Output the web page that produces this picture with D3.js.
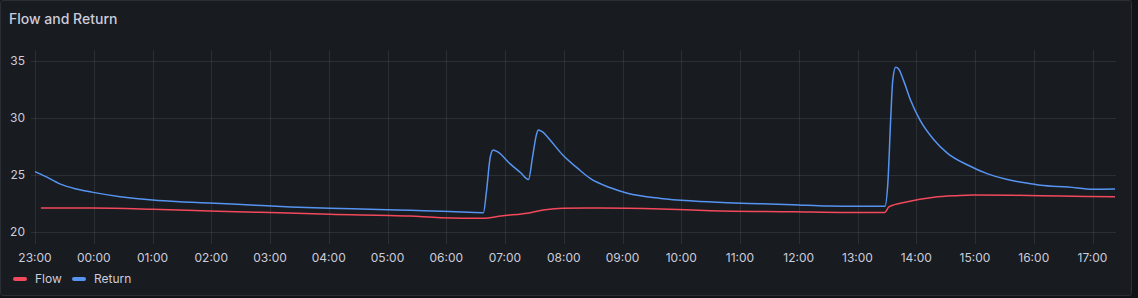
<!DOCTYPE html>
<html>
<head>
<meta charset="utf-8">
<script src="https://cdn.jsdelivr.net/npm/d3@7"></script>
<style>
  html, body { margin: 0; padding: 0; background: #111217; }
  svg { display: block; }
  text { font-family: Inter, "Noto Sans", sans-serif; }
</style>
</head>
<body>
<svg id="chart" width="1138" height="298"></svg>
<script>
const title = "Flow and Return";
const seriesNames = ["Flow", "Return"];
const seriesColors = ["#f2495c", "#5794f2"];
const yTicks = [20, 25, 30, 35];

const returnTimes = ["23:00","23:10","23:26","23:41","23:58","00:27","01:00","01:28","01:58","02:40","03:21","04:01","04:42","05:23","06:04","06:38","06:41","06:45","06:48","06:53","07:05","07:16","07:24","07:28","07:32","07:34","07:38","07:46","07:59","08:14","08:27","08:47","09:05","09:39","10:12","10:47","11:21","11:54","12:29","13:03","13:28","13:31","13:34","13:36","13:39","13:42","13:47","13:54","14:04","14:18","14:32","14:52","15:13","15:33","15:54","16:07","16:35","17:01","17:23"];
const returnValues = [25.3,24.9,24.2,23.8,23.5,23.1,22.8,22.65,22.55,22.37,22.2,22.08,22.0,21.9,21.8,21.7,23.5,26.6,27.2,27.0,26.0,25.2,24.6,26.5,28.5,28.95,28.8,28.07,26.75,25.6,24.7,23.9,23.4,22.95,22.72,22.57,22.48,22.4,22.28,22.25,22.25,24.3,30.1,33.3,34.45,34.3,33.3,31.6,29.8,28.1,26.9,25.9,25.1,24.6,24.27,24.1,23.95,23.75,23.77];

const flowTimes = ["23:06","23:58","01:00","01:58","02:50","04:01","05:23","05:54","06:38","06:56","07:26","07:41","07:59","08:37","09:39","10:30","11:54","12:50","13:28","13:32","13:51","14:18","14:41","14:58","15:39","16:27","17:23"];
const flowValues = [22.1,22.1,22.0,21.85,21.73,21.55,21.4,21.26,21.2,21.4,21.7,21.95,22.08,22.1,22.02,21.87,21.78,21.72,21.72,22.2,22.66,23.05,23.19,23.25,23.22,23.15,23.1];

const rangeStart = "23:00";
const rangeEnd = "17:24";

function parseT(s) {
  const [h, m] = s.split(":").map(Number);
  const day = h >= 23 ? 1 : 2;
  return new Date(2024, 0, day, h, m);
}

const flowData = flowTimes.map((t, i) => ({ t: parseT(t), v: flowValues[i] }));
const returnData = returnTimes.map((t, i) => ({ t: parseT(t), v: returnValues[i] }));

const svg = d3.select("#chart");
const panel = { x: 0.5, y: 0.5, w: 1131, h: 295 };
const plot = { left: 35, right: 1116, top: 49.6, bottom: 240 };

svg.append("rect").attr("x", panel.x).attr("y", panel.y).attr("width", panel.w).attr("height", panel.h)
  .attr("rx", 2).attr("fill", "#181b1f").attr("stroke", "#2b2e35").attr("stroke-width", 1);

svg.append("text").attr("x", 9).attr("y", 24).attr("fill", "#ccccdc")
  .attr("font-size", 14).attr("font-weight", 500).text(title);

const x = d3.scaleTime().domain([parseT(rangeStart), parseT(rangeEnd)]).range([plot.left, plot.right]);
const y = d3.scaleLinear().domain([19.3, 36]).range([plot.bottom, plot.top]);

const gridColor = "rgba(240,250,255,0.09)";
const xTicks = x.ticks(d3.timeHour.every(1));

svg.append("g").selectAll("line").data(xTicks).join("line")
  .attr("x1", d => Math.round(x(d)) + 0.5).attr("x2", d => Math.round(x(d)) + 0.5)
  .attr("y1", 50).attr("y2", 244)
  .attr("stroke", gridColor).attr("stroke-width", 1);

svg.append("g").selectAll("line").data(yTicks).join("line")
  .attr("x1", 31).attr("x2", plot.right)
  .attr("y1", d => Math.round(y(d)) + 0.5).attr("y2", d => Math.round(y(d)) + 0.5)
  .attr("stroke", gridColor).attr("stroke-width", 1);

svg.append("g").selectAll("text").data(yTicks).join("text")
  .attr("x", 25).attr("y", d => y(d)).attr("dy", "0.35em")
  .attr("text-anchor", "end").attr("font-size", 12).attr("fill", "#ccccdc")
  .text(d => d);

const fmt = d3.timeFormat("%H:%M");
svg.append("g").selectAll("text").data(xTicks).join("text")
  .attr("x", d => x(d)).attr("y", 262)
  .attr("text-anchor", "middle").attr("font-size", 12).attr("fill", "#ccccdc")
  .text(d => fmt(d));

const line = d3.line().curve(d3.curveMonotoneX).x(d => x(d.t)).y(d => y(d.v));

svg.append("path").datum(flowData).attr("d", line)
  .attr("fill", "none").attr("stroke", seriesColors[0]).attr("stroke-width", 1.5)
  .attr("stroke-linejoin", "round");
svg.append("path").datum(returnData).attr("d", line)
  .attr("fill", "none").attr("stroke", seriesColors[1]).attr("stroke-width", 1.5)
  .attr("stroke-linejoin", "round");

const legendX = [13, 72];
seriesNames.forEach((n, i) => {
  svg.append("rect").attr("x", legendX[i]).attr("y", 277).attr("width", 14).attr("height", 4)
    .attr("rx", 2).attr("fill", seriesColors[i]);
  svg.append("text").attr("x", legendX[i] + 22).attr("y", 283).attr("font-size", 12)
    .attr("fill", "#ccccdc").text(n);
});
</script>
</body>
</html>
